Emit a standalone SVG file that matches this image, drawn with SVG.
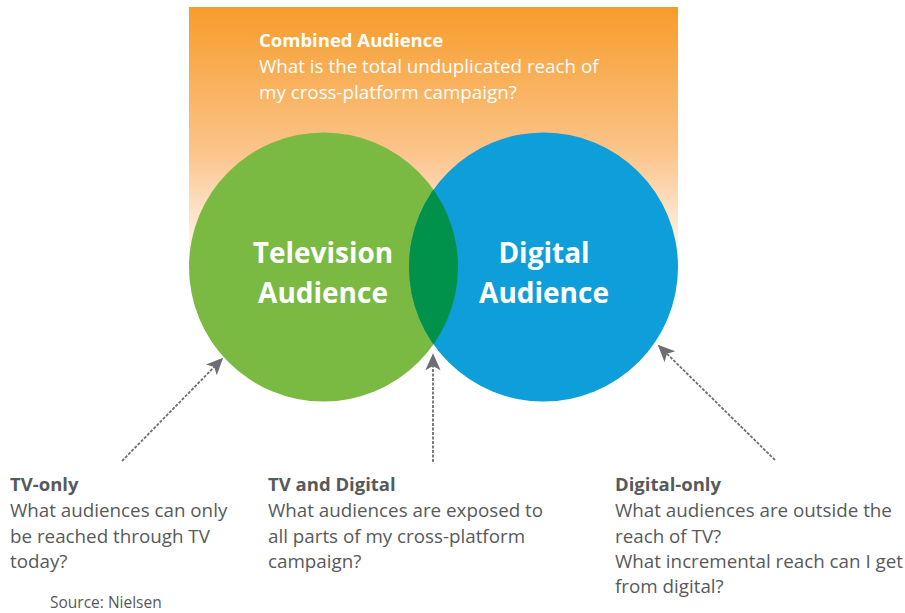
<svg xmlns="http://www.w3.org/2000/svg" width="905" height="613" viewBox="0 0 905 613">
  <defs>
    <linearGradient id="orangeFade" x1="0" y1="0" x2="0" y2="1">
      <stop offset="0" stop-color="#f79c2a"/>
      <stop offset="0.55" stop-color="#fbc489"/>
      <stop offset="1" stop-color="#ffffff"/>
    </linearGradient>
    <clipPath id="greenClip">
      <circle cx="323.5" cy="267" r="134.5"/>
    </clipPath>
    <marker id="arrow" viewBox="0 0 10 10" refX="9" refY="5" markerWidth="17" markerHeight="17" markerUnits="userSpaceOnUse" orient="auto">
      <path d="M0,0.5 L10,5 L0,9.5 L2.5,5 Z" fill="#6d6e73"/>
    </marker>
    <style>
      .t { font-family: "Open Sans", "Noto Sans", "Liberation Sans", sans-serif; }
      .hdr { font-size: 18.5px; font-weight: bold; fill: #ffffff; }
      .sub { font-size: 18.8px; fill: #ffffff; }
      .big { font-size: 28px; font-weight: bold; fill: #ffffff; text-anchor: middle; }
      .lbl { font-size: 18.5px; font-weight: bold; fill: #58595b; }
      .q { font-size: 18.8px; fill: #58595b; }
      .src { font-size: 15.5px; fill: #58595b; }
      .conn { stroke: #6d6e73; stroke-width: 1.8; stroke-dasharray: 3 1.5; fill: none; }
    </style>
  </defs>

  <rect width="905" height="613" fill="#ffffff"/>

  <!-- combined audience backdrop -->
  <g id="combined">
    <rect x="189" y="7" width="489" height="262" fill="url(#orangeFade)"/>
    <text class="t hdr" x="259" y="47">Combined Audience</text>
    <text class="t sub" x="259" y="73">What is the total unduplicated reach of</text>
    <text class="t sub" x="259" y="99">my cross-platform campaign?</text>
  </g>

  <!-- television circle -->
  <g id="television">
    <circle cx="323.5" cy="267" r="134.5" fill="#7aba43"/>
  </g>

  <!-- digital circle -->
  <g id="digital">
    <circle cx="543.5" cy="267" r="134.5" fill="#0e9ed9"/>
  </g>

  <!-- overlap lens -->
  <g id="overlap">
    <circle cx="543.5" cy="267" r="134.5" fill="#00914b" clip-path="url(#greenClip)"/>
  </g>

  <g id="circle-labels">
    <text class="t big" x="323" y="263">Television</text>
    <text class="t big" x="323" y="303">Audience</text>
    <text class="t big" x="544" y="263">Digital</text>
    <text class="t big" x="544" y="303">Audience</text>
  </g>

  <!-- connectors -->
  <g id="connectors">
    <line class="conn" x1="122" y1="461" x2="222" y2="359" marker-end="url(#arrow)"/>
    <line class="conn" x1="433" y1="462" x2="433" y2="355" marker-end="url(#arrow)"/>
    <line class="conn" x1="775" y1="460" x2="659" y2="346" marker-end="url(#arrow)"/>
  </g>

  <g id="tv-only">
    <text class="t lbl" x="10" y="491">TV-only</text>
    <text class="t q" x="10" y="517">What audiences can only</text>
    <text class="t q" x="10" y="543">be reached through TV</text>
    <text class="t q" x="10" y="568">today?</text>
  </g>

  <g id="tv-and-digital">
    <text class="t lbl" x="268" y="491">TV and Digital</text>
    <text class="t q" x="268" y="517">What audiences are exposed to</text>
    <text class="t q" x="268" y="543">all parts of my cross-platform</text>
    <text class="t q" x="268" y="568">campaign?</text>
  </g>

  <g id="digital-only">
    <text class="t lbl" x="615" y="491">Digital-only</text>
    <text class="t q" x="615" y="517">What audiences are outside the</text>
    <text class="t q" x="615" y="543">reach of TV?</text>
    <text class="t q" x="615" y="568">What incremental reach can I get</text>
    <text class="t q" x="615" y="593">from digital?</text>
  </g>

  <g id="source">
    <text class="t src" x="50" y="608">Source: Nielsen</text>
  </g>
</svg>
